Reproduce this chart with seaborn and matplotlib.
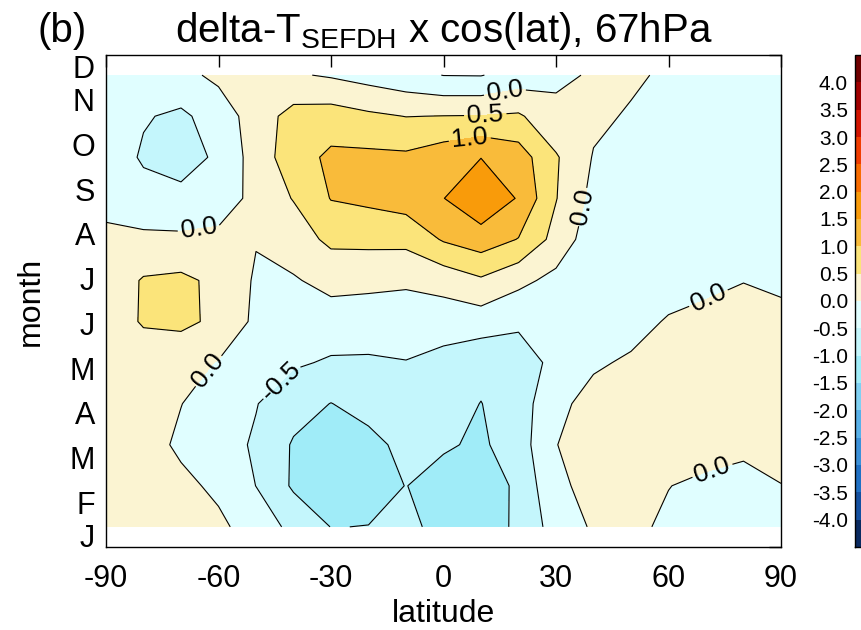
import numpy as np
import matplotlib
matplotlib.use("Agg")
import matplotlib.pyplot as plt
import seaborn as sns

# latitude grid (deg) and month tick labels (Jan at bottom -> Dec at top)
lats = [-90, -80, -70, -60, -50, -40, -30, -20, -10, 0, 10, 20, 30, 40, 50, 60, 70, 80, 90]
month_labels = ["J", "F", "M", "A", "M", "J", "J", "A", "S", "O", "N", "D"]
xtick_vals = [-90, -60, -30, 0, 30, 60, 90]
xtick_labels = ["-90", "-60", "-30", "0", "30", "60", "90"]
cbar_ticks = [-4.0, -3.5, -3.0, -2.5, -2.0, -1.5, -1.0, -0.5, 0.0, 0.5, 1.0, 1.5, 2.0, 2.5, 3.0, 3.5, 4.0]
cbar_labels = ["%.1f" % t for t in cbar_ticks]

# delta-T x cos(lat), one list per month row
t_jan = [0.30, 0.30, 0.25, 0.10, -0.22, -0.63, -1.01, -0.99, -0.90, -1.13, -1.20, -0.93, -0.27, 0.055, 0.10, -0.08, -0.15, -0.20, -0.20]
t_feb = [0.30, 0.30, 0.12, -0.10, -0.505, -1.07, -1.25, -1.20, -0.99, -1.20, -1.30, -0.90, -0.08, 0.12, 0.12, 0.01, -0.10, -0.15, -0.005]
t_mar = [0.30, 0.21, -0.09, -0.30, -0.56, -1.05, -1.30, -1.15, -0.86, -0.94, -1.08, -0.74, -0.01, 0.20, 0.20, 0.20, 0.19, 0.10, 0.08]
t_apr = [0.30, 0.20, 0.01, -0.25, -0.48, -0.80, -1.01, -0.82, -0.85, -0.80, -1.01, -0.75, -0.11, 0.15, 0.25, 0.25, 0.25, 0.20, 0.15]
t_may = [0.30, 0.25, 0.20, -0.03, -0.25, -0.44, -0.55, -0.55, -0.51, -0.65, -0.85, -0.70, -0.39, -0.06, 0.06, 0.15, 0.20, 0.20, 0.15]
t_jun = [0.25, 0.544, 0.595, 0.41, -0.11, -0.20, -0.26, -0.30, -0.35, -0.28, -0.26, -0.43, -0.30, -0.25, -0.16, 0.04, 0.15, 0.15, 0.10]
t_jul = [0.18, 0.544, 0.60, 0.39, -0.06, -0.05, 0.17, 0.14, 0.10, 0.19, 0.43, 0.13, -0.14, -0.25, -0.25, -0.20, -0.13, -0.01, -0.07]
t_aug = [0.10, 0.10, 0.10, 0.20, 0.025, 0.28, 0.60, 0.62, 0.63, 1.05, 1.27, 0.98, 0.33, -0.30, -0.30, -0.30, -0.30, -0.25, -0.20]
t_sep = [-0.14, -0.32, -0.40, -0.42, 0.23, 0.52, 1.02, 1.11, 1.24, 1.49, 1.90, 1.46, 0.52, -0.15, -0.25, -0.30, -0.30, -0.25, -0.20]
t_oct = [-0.21, -0.56, -0.65, -0.44, 0.23, 0.77, 1.10, 1.11, 1.09, 1.29, 1.49, 1.25, 0.55, -0.03, -0.25, -0.30, -0.30, -0.30, -0.25]
t_nov = [-0.30, -0.46, -0.59, -0.28, 0.24, 0.68, 0.73, 0.59, 0.49, 0.51, 0.52, 0.57, 0.13, 0.10, -0.05, -0.30, -0.30, -0.30, -0.25]
t_dec = [-0.20, -0.25, -0.14, 0.11, 0.20, 0.05, -0.05, -0.19, -0.34, -0.51, -0.52, -0.30, -0.10, 0.05, 0.08, -0.08, -0.15, -0.20, -0.20]

# colour table, lowest band first (18 bands of 0.5 from -4.5 to 4.5)
cool_colors = ["#0a2a60", "#1450a0", "#2070c4", "#3c90d8", "#58b0e8",
               "#80d0f2", "#a0ecf8", "#c4f6fc", "#e0feff"]
warm_colors = ["#fbf4d2", "#fbe47a", "#f9bb3a", "#f99b0a", "#f86c00",
               "#f03c00", "#d21400", "#a00000", "#700000"]

sns.set_style("white")
plt.rcParams["font.family"] = ["Liberation Sans", "DejaVu Sans"]
plt.rcParams["mathtext.fontset"] = "custom"
plt.rcParams["mathtext.rm"] = "Liberation Sans"
plt.rcParams["contour.negative_linestyle"] = "solid"
for key in ["text.color", "axes.labelcolor", "xtick.color", "ytick.color", "axes.edgecolor"]:
    plt.rcParams[key] = "black"

field = np.array([t_jan, t_feb, t_mar, t_apr, t_may, t_jun,
                  t_jul, t_aug, t_sep, t_oct, t_nov, t_dec])
row_pos = np.linspace(0.45, 10.55, len(month_labels))
fill_levels = np.arange(-4.5, 4.51, 0.5)
labelled = [-0.5, 0.0, 0.5, 1.0]
other_levels = [lv for lv in np.arange(-4.0, 4.01, 0.5)
                if min(abs(lv - l) for l in labelled) > 1e-9]
palette = sns.color_palette(cool_colors + warm_colors)

fig = plt.figure(figsize=(8.61, 6.30), dpi=100)
ax = fig.add_axes([106 / 861, 1 - 547 / 630, 675 / 861, 492 / 630])

cf = ax.contourf(lats, row_pos, field, levels=fill_levels, colors=palette)
ax.contour(lats, row_pos, field, levels=other_levels, colors="black", linewidths=0.8)

# labelled contour lines, each level on its own so labels land on the right line
label_spots = {
    -0.5: [(-40.9, 3.52)],
    0.0: [(-64.9, 6.93), (-62.3, 3.92), (16.4, 10.17), (37.2, 7.6), (71.6, 5.41), (71.6, 1.73)],
    0.5: [(11.1, 9.7)],
    1.0: [(7.1, 9.1)],
}
for lv, spots in label_spots.items():
    c = ax.contour(lats, row_pos, field, levels=[lv], colors="black", linewidths=0.8)
    ax.clabel(c, fmt="%.1f", fontsize=19, inline=True, inline_spacing=3,
              colors="black", manual=spots)

ax.set_xlim(-90, 90)
ax.set_ylim(0, 11)
ax.set_xticks(xtick_vals)
ax.set_xticklabels(xtick_labels)
ax.set_yticks(range(len(month_labels)))
ax.set_yticklabels(month_labels)
yl = ax.get_yticklabels()
yl[0].set_va("baseline")
yl[-1].set_va("top")
ax.tick_params(axis="both", direction="in", top=True, right=True,
               length=8.5, width=1.0, labelsize=22, color="black")
ax.tick_params(axis="x", pad=12)
ax.tick_params(axis="y", pad=8)
for sp in ax.spines.values():
    sp.set_linewidth(1.0)
ax.set_xlabel("latitude", fontsize=23, labelpad=4)
ax.set_ylabel("month", fontsize=23, labelpad=17)

fig.text(443.5 / 861, 1 - 42 / 630, r"delta-T$_{\mathrm{SEFDH}}$ x cos(lat), 67hPa",
         ha="center", va="baseline", fontsize=29)
fig.text(37 / 861, 1 - 42 / 630, "(b)", ha="left", va="baseline", fontsize=29)

cax = fig.add_axes([855 / 861, 1 - 547 / 630, 0.03, 492 / 630])
cb = fig.colorbar(cf, cax=cax, ticks=cbar_ticks)
cb.ax.set_yticklabels(cbar_labels)
cb.ax.yaxis.set_ticks_position("left")
cb.ax.yaxis.set_label_position("left")
cb.ax.tick_params(length=0, labelsize=15, pad=5)
cb.outline.set_linewidth(1.0)

fig.savefig("out.png", dpi=100)
